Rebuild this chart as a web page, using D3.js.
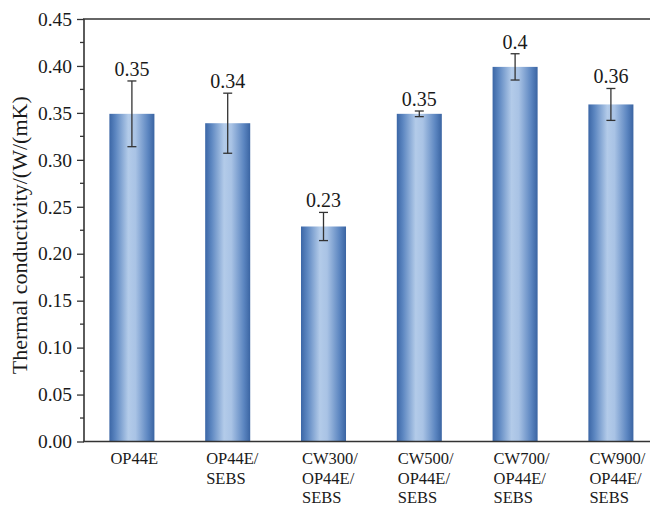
<!DOCTYPE html>
<html>
<head>
<meta charset="utf-8">
<script src="https://cdn.jsdelivr.net/npm/d3@7"></script>
<style>
  html, body { margin: 0; padding: 0; background: #fff; }
  svg { display: block; }
  text { font-family: "Liberation Serif", "Times New Roman", serif; fill: #1a1a1a; }
</style>
</head>
<body>
<svg id="chart" width="650" height="506"></svg>
<script>
const categories = [
  ["OP44E"],
  ["OP44E/", "SEBS"],
  ["CW300/", "OP44E/", "SEBS"],
  ["CW500/", "OP44E/", "SEBS"],
  ["CW700/", "OP44E/", "SEBS"],
  ["CW900/", "OP44E/", "SEBS"]
];
const values = [0.349, 0.339, 0.229, 0.349, 0.399, 0.359];
const errors = [0.035, 0.032, 0.015, 0.003, 0.014, 0.017];
const valueLabels = ["0.35", "0.34", "0.23", "0.35", "0.4", "0.36"];
const yTicks = [0, 0.05, 0.10, 0.15, 0.20, 0.25, 0.30, 0.35, 0.40, 0.45];
const yTitle = "Thermal conductivity/(W/(mK)";

const svg = d3.select("#chart");
const mLeft = 84, mTop = 19, mBottom = 441.5, mRight = 658.8;

const x = d3.scaleBand()
  .domain(d3.range(categories.length))
  .range([mLeft, mRight])
  .paddingInner(0.53)
  .paddingOuter(0.265);

const y = d3.scaleLinear().domain([0, 0.45]).range([mBottom, mTop]);

// gradient
const defs = svg.append("defs");
const grad = defs.append("linearGradient").attr("id", "barGrad")
  .attr("x1", "0%").attr("x2", "100%").attr("y1", "0%").attr("y2", "0%");
[[0, "#3b66a6"], [0.14, "#5d87c1"], [0.42, "#b3cbe9"], [0.58, "#a9c3e5"], [0.86, "#5b85c0"], [1, "#3a64a2"]]
  .forEach(([o, c]) => grad.append("stop").attr("offset", o).attr("stop-color", c));

// bars
svg.append("g").selectAll("rect").data(values).join("rect")
  .attr("x", (d, i) => x(i))
  .attr("width", x.bandwidth())
  .attr("y", d => y(d))
  .attr("height", d => y(0) - y(d))
  .attr("fill", "url(#barGrad)");

// error bars
const eg = svg.append("g").attr("stroke", "#333").attr("stroke-width", 1.3);
values.forEach((v, i) => {
  const cx = x(i) + x.bandwidth() / 2;
  const y1 = y(v + errors[i]), y2 = y(v - errors[i]);
  eg.append("line").attr("x1", cx).attr("x2", cx).attr("y1", y1).attr("y2", y2);
  eg.append("line").attr("x1", cx - 4.5).attr("x2", cx + 4.5).attr("y1", y1).attr("y2", y1);
  eg.append("line").attr("x1", cx - 4.5).attr("x2", cx + 4.5).attr("y1", y2).attr("y2", y2);
});

// value labels
svg.append("g").selectAll("text").data(values).join("text")
  .attr("x", (d, i) => x(i) + x.bandwidth() / 2)
  .attr("y", (d, i) => y(d + errors[i]) - 5)
  .attr("text-anchor", "middle")
  .attr("font-size", 20)
  .text((d, i) => valueLabels[i]);

// y axis
const minor = d3.range(0.025, 0.45, 0.05);
const yAxisG = svg.append("g").attr("transform", `translate(${mLeft},0)`);
yAxisG.call(d3.axisLeft(y).tickValues(yTicks).tickFormat(d3.format(".2f")).tickSize(7).tickPadding(5))
  .call(g => g.select(".domain").remove());
yAxisG.selectAll(".tick line").attr("stroke", "#333").attr("stroke-width", 1.3);
yAxisG.selectAll(".tick text").attr("font-size", 19.5).attr("fill", "#1a1a1a")
  .attr("font-family", "Liberation Serif, Times New Roman, serif");
yAxisG.append("g").selectAll("line").data(minor).join("line")
  .attr("x1", -4).attr("x2", 0).attr("y1", d => y(d)).attr("y2", d => y(d))
  .attr("stroke", "#333").attr("stroke-width", 1.3);

// frame lines
svg.append("line").attr("x1", mLeft).attr("x2", mLeft).attr("y1", mTop).attr("y2", mBottom)
  .attr("stroke", "#333").attr("stroke-width", 1.6);
svg.append("line").attr("x1", mLeft - 1).attr("x2", 650).attr("y1", mBottom).attr("y2", mBottom)
  .attr("stroke", "#333").attr("stroke-width", 1.6);
svg.append("line").attr("x1", mLeft - 1).attr("x2", 650).attr("y1", mTop).attr("y2", mTop)
  .attr("stroke", "#333").attr("stroke-width", 1.6);

// x labels
const xl = svg.append("g");
categories.forEach((lines, i) => {
  const t = xl.append("text")
    .attr("x", x(i) + 1)
    .attr("y", 464)
    .attr("font-size", 16.5);
  lines.forEach((ln, j) => {
    t.append("tspan").attr("x", x(i) + 1).attr("y", 464 + j * 19.5).text(ln);
  });
});

// y title
svg.append("text")
  .attr("transform", `translate(27,${(mTop + mBottom) / 2 + 5}) rotate(-90)`)
  .attr("text-anchor", "middle")
  .attr("font-size", 22)
  .text(yTitle);
</script>
</body>
</html>
